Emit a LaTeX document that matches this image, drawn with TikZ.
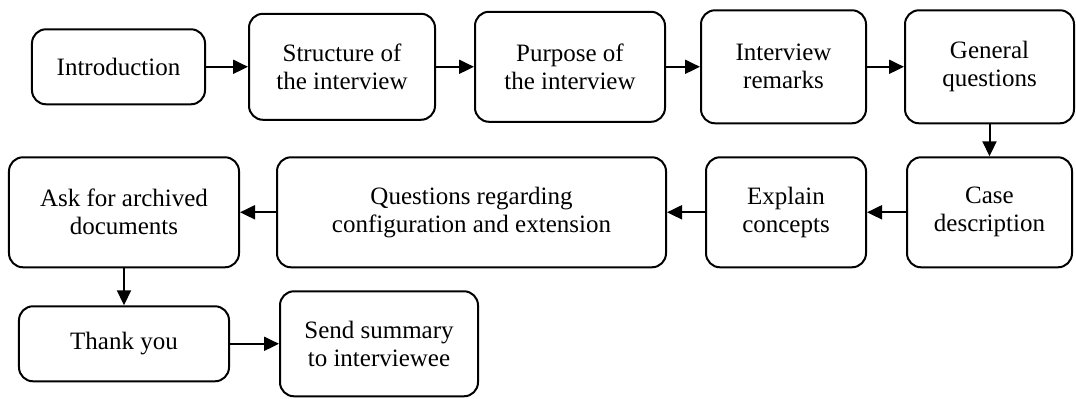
\documentclass[tikz,border=0pt]{standalone}
\usepackage{fontspec}
\setmainfont{Liberation Serif}
\usetikzlibrary{arrows.meta}

\tikzstyle{stepbox} = [
rectangle,
rounded corners=7pt,
minimum height=55pt,
align=center,
draw=black,
line width=1pt,
font=\fontsize{12.5}{14}\selectfont
]
\tikzstyle{flatbox} = [
stepbox,
minimum height=37.5pt
]
\tikzstyle{arrow} = [
line width=1pt,
-{Triangle[length=7.5pt,width=7pt]}
]

\begin{document}
\begin{tikzpicture}[
node distance=105pt
]

\useasboundingbox (-59.25pt,-166.1pt) rectangle (478.75pt,33.4pt);

% first row
\node (intro) [flatbox, minimum width=86.5pt] {Introduction};

\node (structure) [stepbox, minimum width=93pt, minimum height=53pt,
right of=intro, xshift=6.75pt]
{Structure of\\the interview};

\node (purpose) [stepbox, minimum width=95pt,
right of=structure, xshift=9pt]
{Purpose of\\the interview};

\node (remarks) [stepbox, minimum width=82.5pt, minimum height=56.5pt,
right of=purpose, xshift=1.75pt]
{Interview\\remarks};

\node (general) [stepbox, minimum width=84.5pt, minimum height=56.5pt,
right of=remarks, xshift=-2pt]
{General\\questions};

% second row, right to left
\node (case) [stepbox, minimum width=82.5pt,
below of=general, yshift=32.25pt]
{Case\\description};

\node (explain) [stepbox, minimum width=80pt,
left of=case, xshift=3.25pt]
{Explain\\concepts};

\node (questions) [stepbox, minimum width=194.5pt,
left of=explain, xshift=-52.25pt]
{Questions regarding\\configuration and extension};

\node (archive) [stepbox, minimum width=115pt,
left of=questions, xshift=-68.75pt]
{Ask for archived\\documents};

% last row
\node (thanks) [flatbox, minimum width=105pt,
below of=archive, yshift=39.25pt]
{Thank you};

\node (summary) [stepbox, minimum width=99pt, minimum height=52.5pt,
right of=thanks, xshift=22.5pt]
{Send summary\\to interviewee};

\draw [arrow] (intro) -- (structure);

\draw [arrow] (structure) -- (purpose);

\draw [arrow] (purpose) -- (remarks);

\draw [arrow] (remarks) -- (general);

\draw [arrow] (general) -- (case);

\draw [arrow] (case) -- (explain);

\draw [arrow] (explain) -- (questions);

\draw [arrow] (questions) -- (archive);

\draw [arrow] (archive) -- (thanks);

\draw [arrow] (thanks) -- (summary);

\end{tikzpicture}
\end{document}
